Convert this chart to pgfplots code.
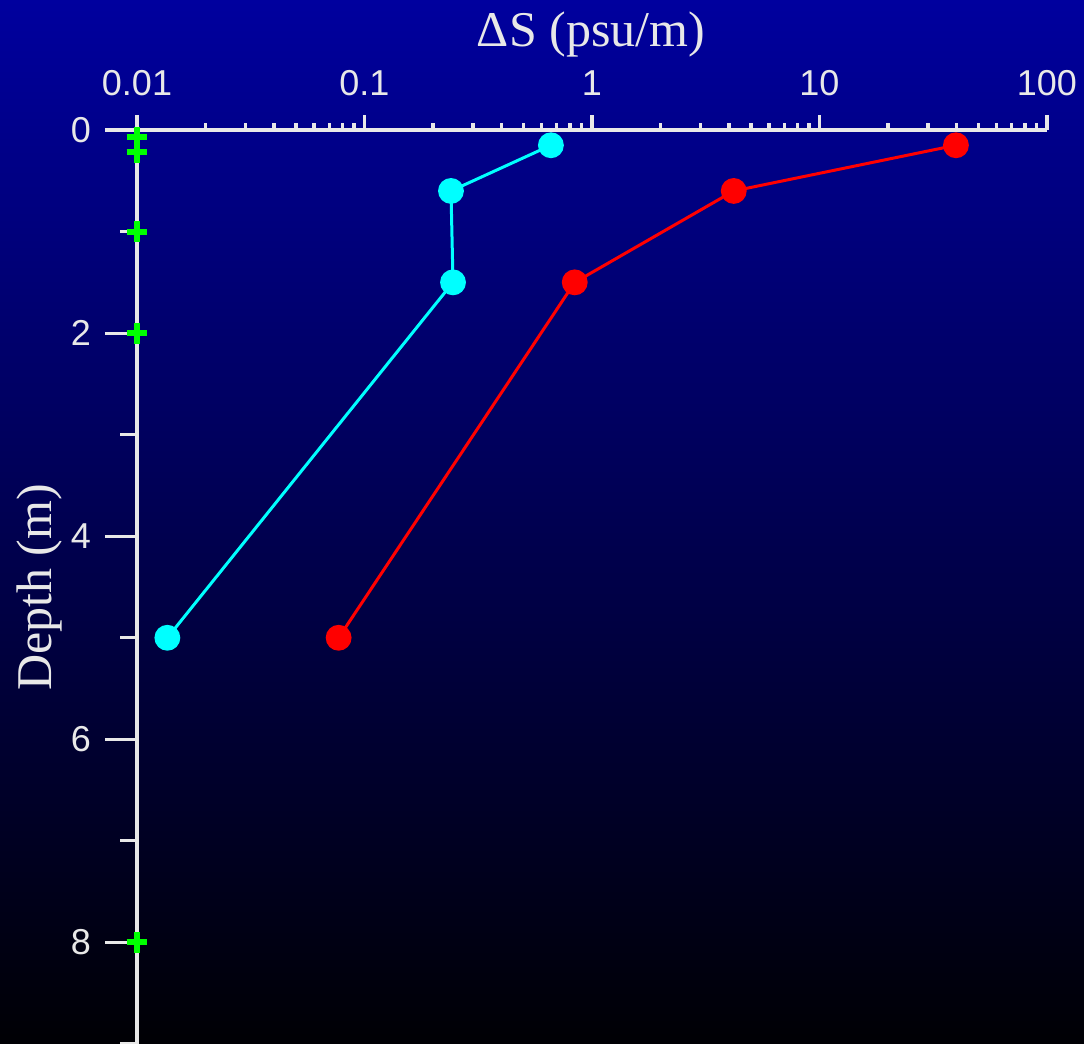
\documentclass[border=0pt]{standalone}
\usepackage{fontspec}
\setmainfont{Liberation Serif}
\setsansfont{Liberation Sans}
\usepackage{pgfplots}
\pgfplotsset{compat=1.18}
\definecolor{axgray}{RGB}{232,232,232}
\definecolor{bgtop}{RGB}{0,0,158}
\definecolor{bgbot}{RGB}{0,0,4}
\definecolor{mycyan}{RGB}{0,255,255}
\definecolor{myred}{RGB}{255,0,0}
\definecolor{mygreen}{RGB}{0,255,0}
\begin{document}
\begin{tikzpicture}
\shade[top color=bgtop, bottom color=bgbot] (0,0) rectangle (542pt,522pt);
\useasboundingbox (0,0) rectangle (542pt,522pt);
\begin{axis}[
  at={(68.5pt,0pt)}, anchor=south west,
  scale only axis, width=455pt, height=457pt,
  xmode=log, xmin=0.01, xmax=100,
  ymin=0, ymax=9, y dir=reverse,
  axis line style={axgray, line width=1.6pt},
  tick style={axgray, line width=1.6pt},
  tick align=outside,
  ticklabel style={font=\sffamily\fontsize{18}{18}\selectfont, text=axgray},
  /pgf/number format/assume math mode=true,
  clip=false,
  axis x line*=top, axis y line=none,
  major tick length=7.5pt, minor tick length=3.5pt,
  xtick={0.01,0.1,1,10,100},
  xticklabels={0.01,0.1,1,10,100},
  minor xtick={0.02,0.03,0.04,0.05,0.06,0.07,0.08,0.09,0.2,0.3,0.4,0.5,0.6,0.7,0.8,0.9,2,3,4,5,6,7,8,9,20,30,40,50,60,70,80,90},
  xticklabel style={yshift=6pt},
]
\addplot[draw=none] coordinates {(1,1)};
\end{axis}
\begin{axis}[
  at={(68.5pt,0pt)}, anchor=south west,
  scale only axis, width=455pt, height=457pt,
  xmode=log, xmin=0.01, xmax=100,
  ymin=0, ymax=9, y dir=reverse,
  axis line style={axgray, line width=1.6pt},
  tick style={axgray, line width=1.6pt},
  tick align=outside,
  ticklabel style={font=\sffamily\fontsize{18}{18}\selectfont, text=axgray},
  /pgf/number format/assume math mode=true,
  clip=false,
  axis x line=none, axis y line*=left,
  major tick length=16pt, minor tick length=8.5pt,
  ytick={0,2,4,6,8},
  minor ytick={1,3,5,7,9},
  yticklabel style={xshift=-3.5pt},
]
\addplot[mycyan, line width=1.5pt, mark=*, mark size=5.7pt, mark options={fill=mycyan, draw=mycyan}]
  coordinates {(0.66,0.15) (0.24,0.6) (0.245,1.5) (0.0136,5)};
\addplot[myred, line width=1.5pt, mark=*, mark size=5.7pt, mark options={fill=myred, draw=myred}]
  coordinates {(39.8,0.15) (4.2,0.6) (0.84,1.5) (0.077,5)};
\addplot[only marks, mygreen, mark=+, mark size=5.2pt, mark options={line width=3pt}]
  coordinates {(0.01,0.07) (0.01,0.22) (0.01,1) (0.01,2) (0.01,8)};
\end{axis}
\node[text=axgray, font=\fontsize{25}{25}\selectfont, anchor=base] at (295.5pt,498.5pt) {ΔS (psu/m)};
\node[text=axgray, font=\fontsize{25}{25}\selectfont, anchor=base, rotate=90] at (26pt,228.25pt) {Depth (m)};
\end{tikzpicture}
\end{document}
